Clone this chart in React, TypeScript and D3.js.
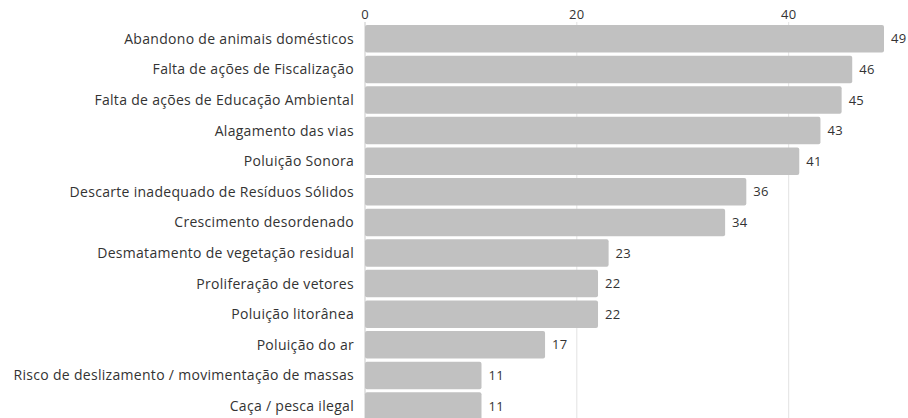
import { useEffect, useRef } from 'react';
import * as d3 from 'd3';

const categories = [
  'Abandono de animais domésticos',
  'Falta de ações de Fiscalização',
  'Falta de ações de Educação Ambiental',
  'Alagamento das vias',
  'Poluição Sonora',
  'Descarte inadequado de Resíduos Sólidos',
  'Crescimento desordenado',
  'Desmatamento de vegetação residual',
  'Proliferação de vetores',
  'Poluição litorânea',
  'Poluição do ar',
  'Risco de deslizamento / movimentação de massas',
  'Caça / pesca ilegal',
];
const values = [49, 46, 45, 43, 41, 36, 34, 23, 22, 22, 17, 11, 11];
const tickValues = [0, 20, 40];

const WIDTH = 908;
const HEIGHT = 418;
const FONT = '"Open Sans", sans-serif';

const App = () => {
  const svgRef = useRef<SVGSVGElement>(null);

  useEffect(() => {
    const svg = d3.select(svgRef.current);
    svg.selectAll('*').remove();

    const data = categories.map((c, i) => ({ category: c, value: values[i] }));

    const x = d3.scaleLinear().domain([0, d3.max(values) as number]).range([365, 884]);
    const y = d3
      .scaleBand()
      .domain(categories)
      .range([23.5, 421.3])
      .paddingInner(0.1)
      .paddingOuter(0.05);

    // grid
    svg
      .append('g')
      .selectAll('line')
      .data(tickValues)
      .enter()
      .append('line')
      .attr('x1', d => x(d))
      .attr('x2', d => x(d))
      .attr('y1', 22)
      .attr('y2', HEIGHT)
      .attr('stroke', d => (d === 0 ? '#c8c8c8' : '#e2e2e2'))
      .attr('stroke-width', 1);

    // top axis labels
    svg
      .append('g')
      .selectAll('text')
      .data(tickValues)
      .enter()
      .append('text')
      .attr('x', d => x(d))
      .attr('y', 14)
      .attr('dy', '0.35em')
      .attr('text-anchor', 'middle')
      .attr('font-family', FONT)
      .attr('font-size', 13)
      .attr('letter-spacing', 0.3)
      .attr('fill', '#333')
      .text(d => d);

    // bars
    svg
      .append('g')
      .selectAll('rect')
      .data(data)
      .enter()
      .append('rect')
      .attr('x', x(0))
      .attr('y', d => y(d.category) as number)
      .attr('width', d => x(d.value) - x(0))
      .attr('height', y.bandwidth())
      .attr('rx', 2)
      .attr('fill', '#c1c1c1');

    // category labels
    svg
      .append('g')
      .selectAll('text')
      .data(data)
      .enter()
      .append('text')
      .attr('x', x(0) - 11)
      .attr('y', d => (y(d.category) as number) + y.bandwidth() / 2)
      .attr('dy', '0.35em')
      .attr('text-anchor', 'end')
      .attr('font-family', FONT)
      .attr('font-size', 14)
      .attr('letter-spacing', 0.3)
      .attr('fill', '#333')
      .text(d => d.category);

    // value labels
    svg
      .append('g')
      .selectAll('text')
      .data(data)
      .enter()
      .append('text')
      .attr('x', d => x(d.value) + 7)
      .attr('y', d => (y(d.category) as number) + y.bandwidth() / 2)
      .attr('dy', '0.35em')
      .attr('font-family', FONT)
      .attr('font-size', 13)
      .attr('letter-spacing', 0.3)
      .attr('fill', '#333')
      .text(d => d.value);
  }, []);

  return (
    <svg
      ref={svgRef}
      width={WIDTH}
      height={HEIGHT}
      style={{ position: 'absolute', left: 0, top: 0, background: '#fff' }}
    />
  );
};

export default App;
